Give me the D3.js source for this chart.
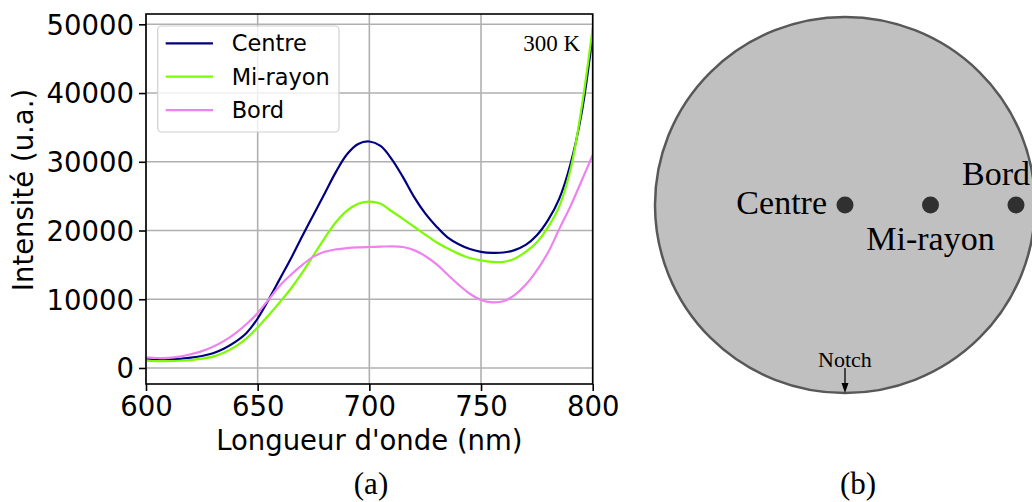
<!DOCTYPE html>
<html>
<head>
<meta charset="utf-8">
<script src="https://cdn.jsdelivr.net/npm/d3@7"></script>
<style>
  html, body { margin: 0; padding: 0; background: #fff; }
  svg { display: block; }
</style>
</head>
<body>
<svg id="chart" width="1032" height="502"></svg>
<script>
// ---------- DATA ----------
const wavelengths = [600,605,610,615,620,625,630,635,640,645,650,655,660,665,670,675,680,685,690,695,700,705,710,715,720,725,730,735,740,745,750,755,760,765,770,775,780,785,790,795,800];
const centre  = [1400,1280,1260,1320,1500,1750,2150,2850,3800,5100,7200,10000,13000,16000,19200,22300,25400,28500,31100,32600,32950,32300,30400,27800,24900,22500,20600,19000,18000,17300,16900,16750,16800,17150,17900,19300,21500,24600,29600,37000,48500];
const miRayon = [1050,1000,1000,1050,1150,1350,1650,2250,3100,4300,5900,7700,9600,11600,13900,16400,18900,21200,22900,23900,24200,23900,22800,21700,20550,19400,18300,17400,16600,16000,15650,15450,15450,15900,16900,18300,20500,23500,28800,37800,49500];
const bord    = [1550,1450,1480,1650,2000,2450,3100,3950,5050,6400,8000,10000,12000,13600,15000,16200,16900,17250,17450,17550,17600,17650,17700,17600,17150,16300,15100,13600,12100,10800,9900,9550,9700,10600,12100,14200,16800,20200,23500,27200,31000];
const seriesNames = ["Centre","Mi-rayon","Bord"];
const seriesColors = ["#000080","#7cfc00","#ee82ee"];
const xTicks = [600,650,700,750,800];
const yTicks = [0,10000,20000,30000,40000,50000];
const xLabel = "Longueur d'onde (nm)";
const yLabel = "Intensité (u.a.)";
const tempLabel = "300 K";
const waferPoints = ["Centre","Mi-rayon","Bord"];
const waferPositions = [0, 0.45, 0.9]; // fraction of radius
const panelLabels = ["(a)","(b)"];

// ---------- LAYOUT ----------
const svg = d3.select("#chart");
const L = 146, R = 592.7, T = 14, B = 384;
const x = d3.scaleLinear().domain([600,800]).range([L,R]);
const y = d3.scaleLinear().domain([-2330,51500]).range([B,T]);
const sans = "'DejaVu Sans', sans-serif";
const serif = "'Liberation Serif', 'DejaVu Serif', serif";

// grid
const g = svg.append("g");
g.selectAll("line.gx").data(xTicks).enter().append("line")
  .attr("x1", d=>x(d)).attr("x2", d=>x(d)).attr("y1", T).attr("y2", B)
  .attr("stroke", "#b0b0b0").attr("stroke-width", 1.6);
g.selectAll("line.gy").data(yTicks).enter().append("line")
  .attr("x1", L).attr("x2", R).attr("y1", d=>y(d)).attr("y2", d=>y(d))
  .attr("stroke", "#b0b0b0").attr("stroke-width", 1.6);

// lines
svg.append("clipPath").attr("id","clip").append("rect")
  .attr("x", L).attr("y", T).attr("width", R-L).attr("height", B-T);
const allSeries = [centre, miRayon, bord];
const line = d3.line().x((d,i)=>x(wavelengths[i])).y(d=>y(d)).curve(d3.curveCatmullRom.alpha(0.5));
svg.append("g").attr("clip-path","url(#clip)")
  .selectAll("path").data(allSeries).enter().append("path")
  .attr("d", d=>line(d)).attr("fill","none")
  .attr("stroke", (d,i)=>seriesColors[i]).attr("stroke-width", 2.2);

// axes
const xAxis = d3.axisBottom(x).tickValues(xTicks).tickSize(7).tickPadding(5).tickFormat(d3.format("d"));
const yAxis = d3.axisLeft(y).tickValues(yTicks).tickSize(7).tickPadding(5).tickFormat(d3.format("d"));
const gx = svg.append("g").attr("transform", `translate(0,${B})`).call(xAxis);
const gy = svg.append("g").attr("transform", `translate(${L},0)`).call(yAxis);
[gx, gy].forEach(a => {
  a.select(".domain").remove();
  a.selectAll(".tick line").attr("stroke","#000").attr("stroke-width",1.6);
  a.selectAll(".tick text").attr("font-family", sans).attr("font-size", 27.5).attr("fill","#000");
});
gy.selectAll(".tick text").attr("dy", "0.36em");

// frame
svg.append("rect").attr("x", L).attr("y", T).attr("width", R-L).attr("height", B-T)
  .attr("fill","none").attr("stroke","#000").attr("stroke-width",1.6);

// axis labels
svg.append("text").attr("x", (L+R)/2).attr("y", 450).attr("text-anchor","middle")
  .attr("font-family", sans).attr("font-size", 27.5).text(xLabel);
svg.append("text").attr("transform", `translate(33,190) rotate(-90)`).attr("text-anchor","middle")
  .attr("font-family", sans).attr("font-size", 27.5).text(yLabel);

// temperature
svg.append("text").attr("x", 580).attr("y", 50.5).attr("text-anchor","end")
  .attr("font-family", serif).attr("font-size", 23).text(tempLabel);

// legend
const lg = svg.append("g");
lg.append("rect").attr("x",157.7).attr("y",26).attr("width",181.3).attr("height",106).attr("rx",4)
  .attr("fill","#fff").attr("fill-opacity",0.8).attr("stroke","#d0d0d0").attr("stroke-width",1.2);
seriesNames.forEach((n,i) => {
  const yy = 43.3 + i*33.4;
  lg.append("line").attr("x1",165.7).attr("x2",213).attr("y1",yy).attr("y2",yy)
    .attr("stroke", seriesColors[i]).attr("stroke-width",2.2);
  lg.append("text").attr("x",231.7).attr("y",yy).attr("dy","0.36em")
    .attr("font-family", sans).attr("font-size", 22.5).text(n);
});

// panel labels
svg.append("text").attr("x", 371).attr("y", 494).attr("text-anchor","middle")
  .attr("font-family", serif).attr("font-size", 31).text(panelLabels[0]);
svg.append("text").attr("x", 858).attr("y", 494).attr("text-anchor","middle")
  .attr("font-family", serif).attr("font-size", 31).text(panelLabels[1]);

// ---------- PANEL (b) : wafer ----------
const cx = 845, cy = 205, rx = 190, ry = 188;
const wx = d3.scaleLinear().domain([0,1]).range([cx, cx + rx]);
svg.append("ellipse").attr("cx",cx).attr("cy",cy).attr("rx",rx).attr("ry",ry)
  .attr("fill","#c0c0c0").attr("stroke","#585858").attr("stroke-width",2.5);
svg.selectAll("circle.pt").data(waferPositions).enter().append("circle")
  .attr("cx", d=>wx(d)).attr("cy", cy).attr("r", 8.5).attr("fill","#303030");
svg.append("text").attr("x", wx(0)-18).attr("y", 213.5).attr("text-anchor","end")
  .attr("font-family", serif).attr("font-size", 34).text(waferPoints[0]);
svg.append("text").attr("x", wx(waferPositions[1])).attr("y", 250).attr("text-anchor","middle")
  .attr("font-family", serif).attr("font-size", 34).text(waferPoints[1]);
svg.append("text").attr("x", 996).attr("y", 185).attr("text-anchor","middle")
  .attr("font-family", serif).attr("font-size", 34).text(waferPoints[2]);
// notch
svg.append("text").attr("x", cx).attr("y", 366.5).attr("text-anchor","middle")
  .attr("font-family", serif).attr("font-size", 22).text("Notch");
svg.append("line").attr("x1",cx).attr("x2",cx).attr("y1",368).attr("y2",385)
  .attr("stroke","#000").attr("stroke-width",1.3);
svg.append("path").attr("d", d3.line()([[cx-3.5,383],[cx+3.5,383],[cx,393]])).attr("fill","#000");
</script>
</body>
</html>
